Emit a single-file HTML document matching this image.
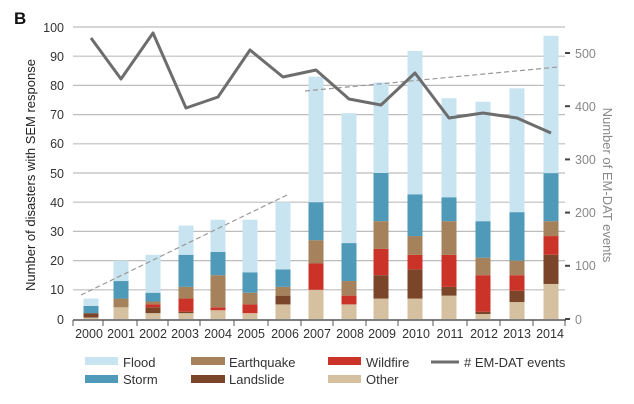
<!DOCTYPE html>
<html><head><meta charset="utf-8"><style>
html,body{margin:0;padding:0;background:#fff;}
svg{display:block;font-family:"Liberation Sans",sans-serif;}
.o{fill:#d5c0a0}.l{fill:#7a4529}.w{fill:#cc3328}.e{fill:#a5815c}.s{fill:#4e9ab8}.f{fill:#c9e4f1}
</style></head><body>
<svg width="634" height="404" viewBox="0 0 634 404" xmlns="http://www.w3.org/2000/svg">
<text x="14" y="24" font-size="17" font-weight="bold" fill="#111">B</text>
<g stroke="#bdbdbd" stroke-width="1.2">
<line x1="73" x2="565" y1="27" y2="27"/><line x1="73" x2="565" y1="56.2" y2="56.2"/>
<line x1="73" x2="565" y1="85.4" y2="85.4"/><line x1="73" x2="565" y1="114.6" y2="114.6"/>
<line x1="73" x2="565" y1="143.8" y2="143.8"/><line x1="73" x2="565" y1="173" y2="173"/>
<line x1="73" x2="565" y1="202.2" y2="202.2"/><line x1="73" x2="565" y1="231.4" y2="231.4"/>
<line x1="73" x2="565" y1="260.6" y2="260.6"/><line x1="73" x2="565" y1="289.8" y2="289.8"/>
</g>
<g font-size="12.5" fill="#333" text-anchor="end">
<text x="64" y="32">100</text><text x="64" y="61">90</text><text x="64" y="90">80</text>
<text x="64" y="119">70</text><text x="64" y="148">60</text><text x="64" y="178">50</text>
<text x="64" y="207">40</text><text x="64" y="236">30</text><text x="64" y="265">20</text>
<text x="64" y="294">10</text><text x="64" y="324">0</text>
</g>
<g>
<g transform="translate(83.5,0)"><rect class="o" y="317.54" width="15" height="1.46"/><rect class="l" y="313.16" width="15" height="4.38"/><rect class="s" y="305.86" width="15" height="7.3"/><rect class="f" y="298.56" width="15" height="7.3"/></g>
<g transform="translate(113.5,0)"><rect class="o" y="307.32" width="15" height="11.68"/><rect class="e" y="298.56" width="15" height="8.76"/><rect class="s" y="281.04" width="15" height="17.52"/><rect class="f" y="260.6" width="15" height="20.44"/></g>
<g transform="translate(145.5,0)"><rect class="o" y="313.16" width="15" height="5.84"/><rect class="l" y="307.32" width="15" height="5.84"/><rect class="w" y="304.4" width="15" height="2.92"/><rect class="e" y="301.48" width="15" height="2.92"/><rect class="s" y="292.72" width="15" height="8.76"/><rect class="f" y="254.76" width="15" height="37.96"/></g>
<g transform="translate(178.5,0)"><rect class="o" y="313.16" width="15" height="5.84"/><rect class="l" y="311.7" width="15" height="1.46"/><rect class="w" y="298.56" width="15" height="13.14"/><rect class="e" y="286.88" width="15" height="11.68"/><rect class="s" y="254.76" width="15" height="32.12"/><rect class="f" y="225.56" width="15" height="29.2"/></g>
<g transform="translate(210.5,0)"><rect class="o" y="310.24" width="15" height="8.76"/><rect class="w" y="307.32" width="15" height="2.92"/><rect class="e" y="275.2" width="15" height="32.12"/><rect class="s" y="251.84" width="15" height="23.36"/><rect class="f" y="219.72" width="15" height="32.12"/></g>
<g transform="translate(242.5,0)"><rect class="o" y="313.16" width="15" height="5.84"/><rect class="w" y="304.4" width="15" height="8.76"/><rect class="e" y="292.72" width="15" height="11.68"/><rect class="s" y="272.28" width="15" height="20.44"/><rect class="f" y="219.72" width="15" height="52.56"/></g>
<g transform="translate(275.5,0)"><rect class="o" y="304.4" width="15" height="14.6"/><rect class="l" y="295.64" width="15" height="8.76"/><rect class="e" y="286.88" width="15" height="8.76"/><rect class="s" y="269.36" width="15" height="17.52"/><rect class="f" y="202.2" width="15" height="67.16"/></g>
<g transform="translate(308.5,0)"><rect class="o" y="289.8" width="15" height="29.2"/><rect class="w" y="263.52" width="15" height="26.28"/><rect class="e" y="240.16" width="15" height="23.36"/><rect class="s" y="202.2" width="15" height="37.96"/><rect class="f" y="76.64" width="15" height="125.56"/></g>
<g transform="translate(341.5,0)"><rect class="o" y="304.4" width="15" height="14.6"/><rect class="w" y="295.64" width="15" height="8.76"/><rect class="e" y="281.04" width="15" height="14.6"/><rect class="s" y="243.08" width="15" height="37.96"/><rect class="f" y="113.14" width="15" height="129.94"/></g>
<g transform="translate(373.5,0)"><rect class="o" y="298.56" width="15" height="20.44"/><rect class="l" y="275.2" width="15" height="23.36"/><rect class="w" y="248.92" width="15" height="26.28"/><rect class="e" y="221.18" width="15" height="27.74"/><rect class="s" y="173" width="15" height="48.18"/><rect class="f" y="82.48" width="15" height="90.52"/></g>
<g transform="translate(407.5,0)"><rect class="o" y="298.56" width="15" height="20.44"/><rect class="l" y="269.36" width="15" height="29.2"/><rect class="w" y="254.76" width="15" height="14.6"/><rect class="e" y="236.07" width="15" height="18.69"/><rect class="s" y="194.3" width="15" height="41.77"/><rect class="f" y="50.94" width="15" height="143.36"/></g>
<g transform="translate(441.5,0)"><rect class="o" y="295.64" width="15" height="23.36"/><rect class="l" y="286.88" width="15" height="8.76"/><rect class="w" y="254.76" width="15" height="32.12"/><rect class="e" y="221.18" width="15" height="33.58"/><rect class="s" y="197.24" width="15" height="23.94"/><rect class="f" y="98.25" width="15" height="98.99"/></g>
<g transform="translate(475.5,0)"><rect class="o" y="314.04" width="15" height="4.96"/><rect class="l" y="311.7" width="15" height="2.34"/><rect class="w" y="275.2" width="15" height="36.5"/><rect class="e" y="257.68" width="15" height="17.52"/><rect class="s" y="221.18" width="15" height="36.5"/><rect class="f" y="101.75" width="15" height="119.43"/></g>
<g transform="translate(509.5,0)"><rect class="o" y="302.06" width="15" height="16.94"/><rect class="l" y="290.68" width="15" height="11.38"/><rect class="w" y="275.2" width="15" height="15.48"/><rect class="e" y="260.6" width="15" height="14.6"/><rect class="s" y="212.13" width="15" height="48.47"/><rect class="f" y="88.32" width="15" height="123.81"/></g>
<g transform="translate(543.5,0)"><rect class="o" y="283.96" width="15" height="35.04"/><rect class="l" y="254.76" width="15" height="29.2"/><rect class="w" y="236.07" width="15" height="18.69"/><rect class="e" y="221.18" width="15" height="14.89"/><rect class="s" y="173" width="15" height="48.18"/><rect class="f" y="35.76" width="15" height="137.42"/></g>
</g>
<line x1="81" y1="295" x2="287" y2="195" stroke="#999" stroke-width="1.2" stroke-dasharray="5,3"/>
<line x1="305" y1="91" x2="558" y2="67" stroke="#999" stroke-width="1.2" stroke-dasharray="5,3"/>
<polyline fill="none" stroke="#6d6d6d" stroke-width="3" stroke-linejoin="round" points="91,38 121,79 153,33 186,108 218,97 250,50 283,77 316,70 349,99 381,105 415,73 449,118 483,113 517,118 551,133"/>
<line x1="73" y1="320" x2="566" y2="320" stroke="#555" stroke-width="1.5"/>
<g stroke="#555" stroke-width="1">
<line x1="73" x2="73" y1="320" y2="326"/><line x1="103" x2="103" y1="320" y2="326"/><line x1="137" x2="137" y1="320" y2="326"/>
<line x1="168" x2="168" y1="320" y2="326"/><line x1="200" x2="200" y1="320" y2="326"/><line x1="234" x2="234" y1="320" y2="326"/>
<line x1="268" x2="268" y1="320" y2="326"/><line x1="301" x2="301" y1="320" y2="326"/><line x1="333" x2="333" y1="320" y2="326"/>
<line x1="366" x2="366" y1="320" y2="326"/><line x1="398" x2="398" y1="320" y2="326"/><line x1="433" x2="433" y1="320" y2="326"/>
<line x1="467" x2="467" y1="320" y2="326"/><line x1="500" x2="500" y1="320" y2="326"/><line x1="533" x2="533" y1="320" y2="326"/>
<line x1="565" x2="565" y1="320" y2="326"/>
</g>
<g font-size="12.5" fill="#333" text-anchor="middle">
<text x="89" y="338">2000</text><text x="121" y="338">2001</text><text x="153" y="338">2002</text>
<text x="185" y="338">2003</text><text x="218" y="338">2004</text><text x="251" y="338">2005</text>
<text x="285" y="338">2006</text><text x="317" y="338">2007</text><text x="350" y="338">2008</text>
<text x="382" y="338">2009</text><text x="416" y="338">2010</text><text x="450" y="338">2011</text>
<text x="484" y="338">2012</text><text x="517" y="338">2013</text><text x="550" y="338">2014</text>
</g>
<g stroke="#444" stroke-width="2">
<line x1="565" x2="570" y1="53" y2="53"/><line x1="565" x2="570" y1="106.2" y2="106.2"/>
<line x1="565" x2="570" y1="159.4" y2="159.4"/><line x1="565" x2="570" y1="212.6" y2="212.6"/>
<line x1="565" x2="570" y1="265.8" y2="265.8"/><line x1="565" x2="570" y1="319" y2="319"/>
</g>
<g font-size="12.5" fill="#888">
<text x="575" y="58">500</text><text x="575" y="111">400</text><text x="575" y="164">300</text>
<text x="575" y="217">200</text><text x="575" y="270">100</text><text x="575" y="324">0</text>
</g>
<text transform="translate(35,175) rotate(-90)" font-size="13" fill="#222" text-anchor="middle">Number of disasters with SEM response</text>
<text transform="translate(603,185) rotate(90)" font-size="13" fill="#888" text-anchor="middle">Number of EM-DAT events</text>
<g font-size="13" fill="#333">
<rect x="85" y="357" width="33" height="8" fill="#c9e4f1"/><text x="123" y="367">Flood</text>
<rect x="85" y="375" width="33" height="8" fill="#4e9ab8"/><text x="123" y="384">Storm</text>
<rect x="191" y="357" width="34" height="8" fill="#a5815c"/><text x="229" y="367">Earthquake</text>
<rect x="191" y="375" width="34" height="8" fill="#7a4529"/><text x="229" y="384">Landslide</text>
<rect x="328" y="357" width="33" height="8" fill="#cc3328"/><text x="366" y="367">Wildfire</text>
<rect x="328" y="375" width="33" height="8" fill="#d5c0a0"/><text x="366" y="384">Other</text>
<line x1="431" x2="459" y1="362" y2="362" stroke="#6d6d6d" stroke-width="3"/><text x="464" y="367"># EM-DAT events</text>
</g>
</svg>
</body></html>
